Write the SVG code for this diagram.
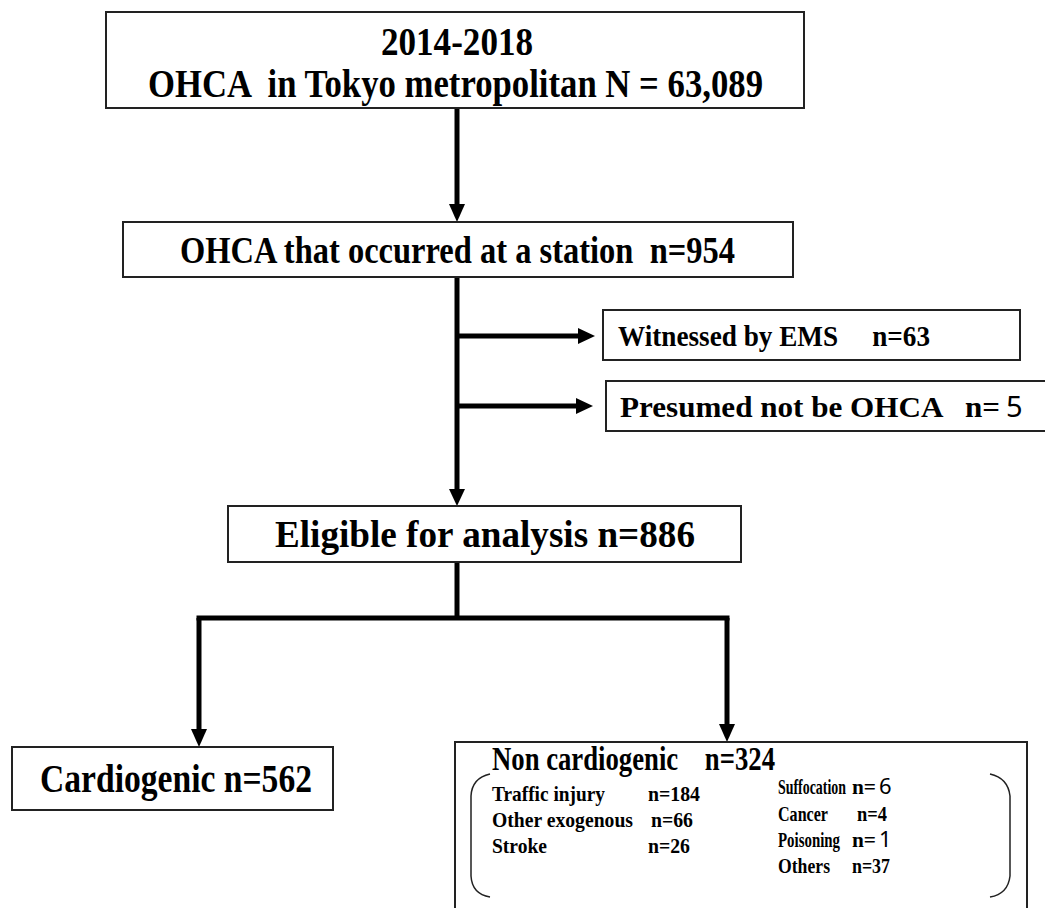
<svg xmlns="http://www.w3.org/2000/svg" width="1045" height="908" viewBox="0 0 1045 908">
<style>
.box{fill:#fff;stroke:#222;stroke-width:2}
.t{font-family:"Liberation Serif","Times New Roman",serif;font-weight:bold;fill:#000;white-space:pre}
.s{font-family:"Noto Sans","DejaVu Sans",sans-serif;fill:#000}
.ln{stroke:#000;stroke-width:5;fill:none}
.br{stroke:#222;stroke-width:1.5;fill:none}
</style>
<rect width="1045" height="908" fill="#fff"/>
<g id="connectors">
<line class="ln" x1="457" y1="108" x2="457" y2="206"/>
<polygon points="449,204 465,204 457,222"/>
<line class="ln" x1="457" y1="277" x2="457" y2="490"/>
<polygon points="449,489 465,489 457,506"/>
<line class="ln" x1="457" y1="336" x2="580" y2="336"/>
<polygon points="578,328 578,344 595,336"/>
<line class="ln" x1="457" y1="406" x2="578" y2="406"/>
<polygon points="576,398 576,414 593,406"/>
<line class="ln" x1="457" y1="562" x2="457" y2="618"/>
<line class="ln" x1="196.5" y1="618" x2="729.5" y2="618"/>
<line class="ln" x1="199" y1="618" x2="199" y2="731"/>
<polygon points="191,729 207,729 199,747"/>
<line class="ln" x1="727" y1="618" x2="727" y2="726"/>
<polygon points="719,724 735,724 727,742"/>
</g>
<g id="n1">
<rect class="box" x="106" y="12" width="698" height="96"/>
<text class="t" x="457" y="55" font-size="40" text-anchor="middle" textLength="152" lengthAdjust="spacingAndGlyphs">2014-2018</text>
<text class="t" x="455.5" y="97" font-size="40" text-anchor="middle" textLength="615" lengthAdjust="spacingAndGlyphs">OHCA  in Tokyo metropolitan N = 63,089</text>
</g>
<g id="n2">
<rect class="box" x="123" y="222" width="670" height="55"/>
<text class="t" x="457.5" y="263" font-size="37" text-anchor="middle" textLength="555" lengthAdjust="spacingAndGlyphs">OHCA that occurred at a station  n=954</text>
</g>
<g id="n3">
<rect class="box" x="603" y="310" width="417" height="50"/>
<text class="t" x="618" y="346" font-size="30" textLength="312" lengthAdjust="spacingAndGlyphs">Witnessed by EMS     n=63</text>
</g>
<g id="n4">
<rect class="box" x="606" y="381" width="450" height="50"/>
<text class="t" x="620" y="417" font-size="30" textLength="380" lengthAdjust="spacingAndGlyphs">Presumed not be OHCA   n=</text>
<text class="s" x="1006" y="417" font-size="29">5</text>
</g>
<g id="n5">
<rect class="box" x="228" y="506" width="513" height="56"/>
<text class="t" x="485" y="547" font-size="38" text-anchor="middle" textLength="420" lengthAdjust="spacingAndGlyphs">Eligible for analysis n=886</text>
</g>
<g id="n6">
<rect class="box" x="12" y="747" width="321" height="63"/>
<text class="t" x="176" y="792" font-size="40" text-anchor="middle" textLength="272" lengthAdjust="spacingAndGlyphs">Cardiogenic n=562</text>
</g>
<g id="n7">
<rect class="box" x="455" y="742" width="572" height="180"/>
<text class="t" x="492" y="770" font-size="34" textLength="283" lengthAdjust="spacingAndGlyphs">Non cardiogenic    n=324</text>
<path class="br" d="M490,774 Q472,778 471,796 L471,876 Q472,894 490,897"/>
<path class="br" d="M990,774 Q1008,778 1010,796 L1010,876 Q1008,894 990,897"/>
<g font-size="22">
<text class="t" x="492" y="801" textLength="113" lengthAdjust="spacingAndGlyphs">Traffic injury</text>
<text class="t" x="648" y="801" textLength="52" lengthAdjust="spacingAndGlyphs">n=184</text>
<text class="t" x="492" y="827" textLength="141" lengthAdjust="spacingAndGlyphs">Other exogenous</text>
<text class="t" x="651" y="827" textLength="42" lengthAdjust="spacingAndGlyphs">n=66</text>
<text class="t" x="492" y="853" textLength="55" lengthAdjust="spacingAndGlyphs">Stroke</text>
<text class="t" x="648" y="853" textLength="42" lengthAdjust="spacingAndGlyphs">n=26</text>
<text class="t" x="778" y="794" font-size="21" textLength="68" lengthAdjust="spacingAndGlyphs">Suffocation</text>
<text class="t" x="852" y="794" textLength="24" lengthAdjust="spacingAndGlyphs">n=</text>
<text class="s" x="879" y="794" font-size="22">6</text>
<text class="t" x="778" y="821" textLength="50" lengthAdjust="spacingAndGlyphs">Cancer</text>
<text class="t" x="857" y="821" textLength="30" lengthAdjust="spacingAndGlyphs">n=4</text>
<text class="t" x="778" y="847" textLength="62" lengthAdjust="spacingAndGlyphs">Poisoning</text>
<text class="t" x="852" y="847" textLength="24" lengthAdjust="spacingAndGlyphs">n=</text>
<text class="s" x="879" y="847" font-size="22">1</text>
<text class="t" x="778" y="873" textLength="52" lengthAdjust="spacingAndGlyphs">Others</text>
<text class="t" x="852" y="873" textLength="38" lengthAdjust="spacingAndGlyphs">n=37</text>
</g>
</g>
</svg>
